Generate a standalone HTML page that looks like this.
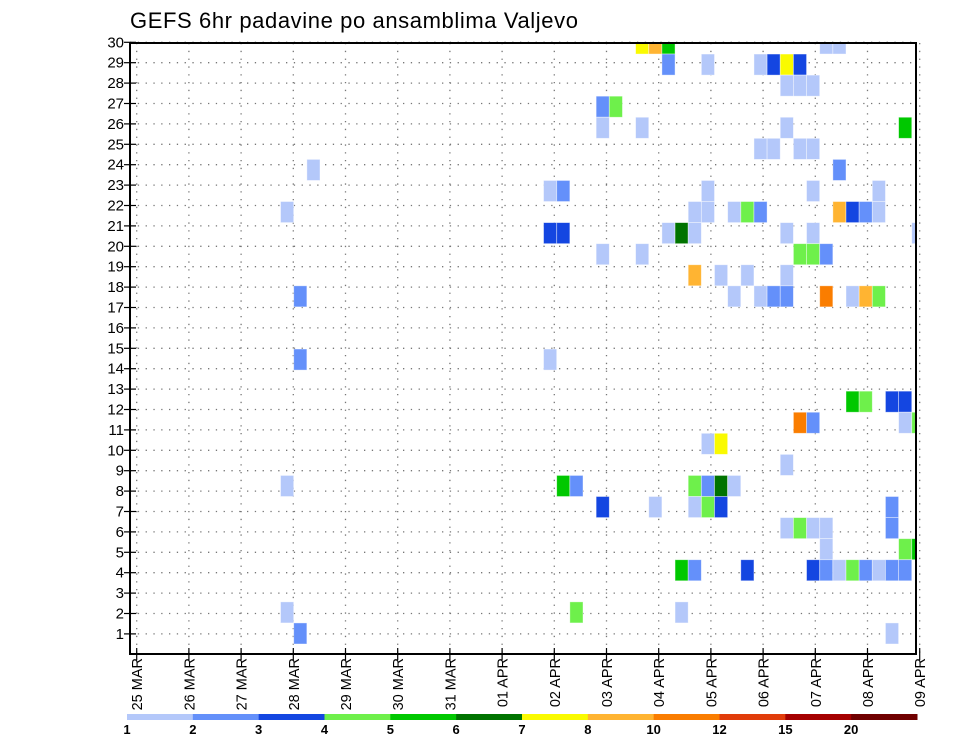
<!DOCTYPE html>
<html><head><meta charset="utf-8"><style>
html,body{margin:0;padding:0;background:#fff;}
svg{display:block;font-family:"Liberation Sans",sans-serif;}
</style></head><body>
<svg id="chart" width="960" height="742" viewBox="0 0 960 742" xmlns="http://www.w3.org/2000/svg">
<text x="130" y="28" font-size="22" fill="#000" letter-spacing="0.6">GEFS 6hr padavine po ansamblima Valjevo</text>
<defs><clipPath id="plotclip"><rect x="130" y="43" width="786" height="611"/></clipPath></defs>
<g id="grid"></g>
<g id="cells" clip-path="url(#plotclip)"></g>
<rect x="130" y="43" width="786" height="611" fill="none" stroke="#000" stroke-width="2"/>
<g id="yaxis"></g>
<g id="xaxis"></g>
<g id="legend"></g>
</svg>
<script>
// data: 6-hour step index since 25 MAR 00Z, ensemble cell row, precip value (mm)
const cellStep   = [38,39,40,52,53, 40,43,47,48,49,50, 49,50,51, 35,36, 35,38,49,58, 47,48,50,51, 53,13, 31,32,43,51,56, 42,43,45,46,47,53,54,55,56,11, 31,32,40,41,42,49,51,59, 35,38,50,51,52, 42,44,46,49, 45,47,48,49,52,54,55,56,12, 31,12, 54,55,57,58, 50,51,58,59, 43,44, 49, 32,33,42,43,44,45,11, 35,39,42,43,44,57, 49,50,51,52,57, 52,58,59, 41,42,46,51,52,53,54,55,56,57,58, 33,41,11, 57,12];
const cellMember = [29,29,29,29,29, 28,28,28,28,28,28, 27,27,27, 26,26, 25,25,25,25, 24,24,24,24, 23,23, 22,22,22,22,22, 21,21,21,21,21,21,21,21,21,21, 20,20,20,20,20,20,20,20, 19,19,19,19,19, 18,18,18,18, 17,17,17,17,17,17,17,17,17, 14,14, 12,12,12,12, 11,11,11,11, 10,10, 9, 8,8,8,8,8,8,8, 7,7,7,7,7,7, 6,6,6,6,6, 5,5,5, 4,4,4,4,4,4,4,4,4,4,4, 2,2,2, 1,1];
const cellValue  = [7.5,9,5.5,1.5,1.5, 2.5,1.5,1.5,3.5,7.5,3.5, 1.5,1.5,1.5, 2.5,4.5, 1.5,1.5,1.5,5.5, 1.5,1.5,1.5,1.5, 2.5,1.5, 1.5,2.5,1.5,1.5,1.5, 1.5,1.5,1.5,4.5,2.5,9,3.5,2.5,1.5,1.5, 3.5,3.5,1.5,6.5,1.5,1.5,1.5,1.5, 1.5,1.5,4.5,4.5,2.5, 9,1.5,1.5,1.5, 1.5,1.5,2.5,2.5,11,1.5,9,4.5,2.5, 1.5,2.5, 5.5,4.5,3.5,3.5, 11,2.5,1.5,4.5, 1.5,7.5, 1.5, 5.5,2.5,4.5,2.5,6.5,1.5,1.5, 3.5,1.5,1.5,4.5,3.5,2.5, 1.5,4.5,1.5,1.5,2.5, 1.5,4.5,5.5, 5.5,2.5,3.5,3.5,2.5,1.5,4.5,2.5,1.5,2.5,2.5, 4.5,1.5,1.5, 1.5,2.5];
const dayLabels = ["25 MAR","26 MAR","27 MAR","28 MAR","29 MAR","30 MAR","31 MAR","01 APR","02 APR","03 APR","04 APR","05 APR","06 APR","07 APR","08 APR","09 APR"];
const yTicks = [1,2,3,4,5,6,7,8,9,10,11,12,13,14,15,16,17,18,19,20,21,22,23,24,25,26,27,28,29,30];
const levels = [1,2,3,4,5,6,7,8,10,12,15,20];
const levelColors = ["#b4c8fa","#6490fa","#1446e1","#6ef04b","#00c800","#007300","#fafa00","#ffb432","#fa7d00","#e13c0a","#a50000","#700000"];

const NS="http://www.w3.org/2000/svg";
function mk(tag,attrs,parent){const e=document.createElementNS(NS,tag);for(const k in attrs)e.setAttribute(k,attrs[k]);parent.appendChild(e);return e;}
const xDay = d => 136.7 + d*52.2;
const yTick = m => 654.3 - m*20.4;
const cellX = s => 135.9 + s*13.15;
const cellW = 13.15;
const cellTop = k => 644 - k*21.07;
const cellH = 21.07;
function colorFor(v){let i=0;for(let j=0;j<levels.length;j++){if(v>=levels[j])i=j;}return levelColors[i];}

const grid=document.getElementById('grid');
yTicks.forEach(m=>{
  const l=mk('line',{x1:130,x2:916,y1:yTick(m),y2:yTick(m),stroke:'#777','stroke-width':1.3,'stroke-dasharray':'1.3 6.5'},grid);
  
  
});
dayLabels.forEach((d,i)=>{
  const l=mk('line',{x1:xDay(i),x2:xDay(i),y1:43,y2:654,stroke:'#777','stroke-width':1.3,'stroke-dasharray':'1.3 6.5'},grid);
  
  
});

const cells=document.getElementById('cells');
cellStep.forEach((s,i)=>{
  const r=mk('rect',{x:cellX(s),y:cellTop(cellMember[i]),width:cellW,height:cellH,fill:colorFor(cellValue[i]),stroke:'#ffffff','stroke-opacity':0.5,'stroke-width':0.8},cells);
  
  
});

const ya=document.getElementById('yaxis');
yTicks.forEach(m=>{
  const t=mk('line',{x1:124,x2:136,y1:yTick(m),y2:yTick(m),stroke:'#000','stroke-width':1.2},ya);
  
  
  const tx=mk('text',{x:124,y:yTick(m)+5,'text-anchor':'end','font-size':15,fill:'#000'},ya);
  tx.textContent=m;
  
  
});

const xa=document.getElementById('xaxis');
dayLabels.forEach((d,i)=>{
  const t=mk('line',{x1:xDay(i),x2:xDay(i),y1:648,y2:660,stroke:'#000','stroke-width':1.2},xa);
  
  
  const x=xDay(i)+5.5, y=658;
  const tx=mk('text',{x:x,y:y,'text-anchor':'end','font-size':14.5,fill:'#000',transform:`rotate(-90 ${x} ${y})`},xa);
  tx.textContent=d;
  
  
});

const lg=document.getElementById('legend');
const segW=(917-127)/levelColors.length;
levelColors.forEach((c,i)=>{
  const r=mk('rect',{x:127+i*segW,y:714,width:segW+0.5,height:6,fill:c},lg);
  
  
});
levels.forEach((v,i)=>{
  const t=mk('text',{x:127+i*segW,y:734,'text-anchor':'middle','font-size':13,'font-weight':'bold',fill:'#000'},lg);
  t.textContent=v;
  
  
});
</script>
</body></html>
